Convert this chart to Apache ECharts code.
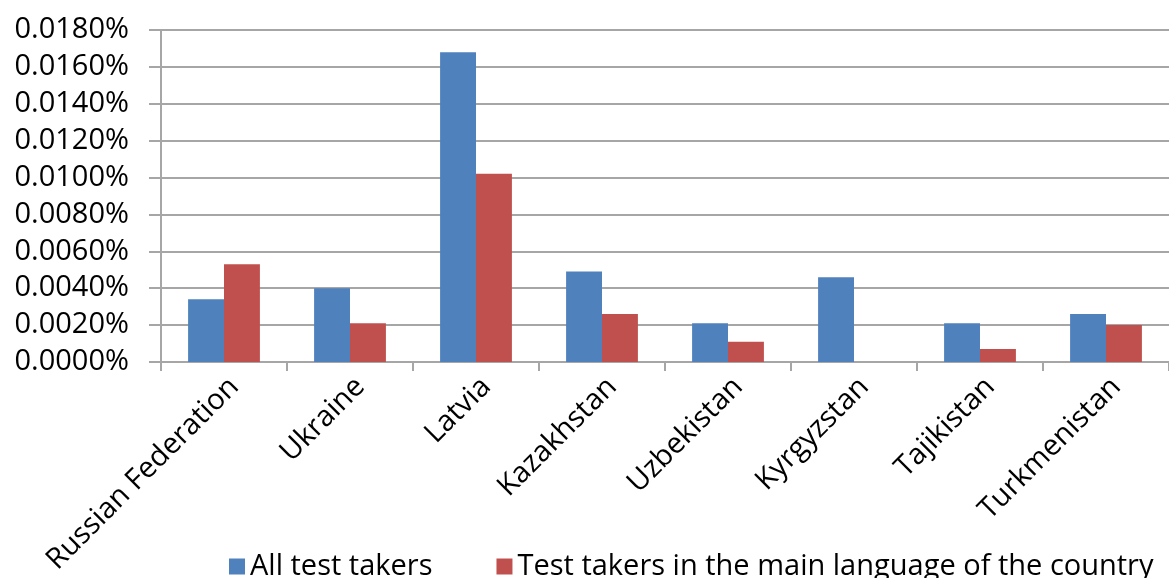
<!DOCTYPE html>
<html>
<head>
<meta charset="utf-8">
<script src="https://cdn.jsdelivr.net/npm/echarts@6/dist/echarts.min.js"></script>
<style>
  html, body { margin: 0; padding: 0; background: #fff; }
  #chart { width: 1169px; height: 578px; }
</style>
</head>
<body>
<div id="chart"></div>
<script>
// values are in percent (0.0034 means 0.0034%)
const countries = ["Russian Federation", "Ukraine", "Latvia", "Kazakhstan", "Uzbekistan", "Kyrgyzstan", "Tajikistan", "Turkmenistan"];
const allTakers = [0.0034, 0.0040, 0.0168, 0.0049, 0.0021, 0.0046, 0.0021, 0.0026];
const mainLanguage = [0.0053, 0.0021, 0.0102, 0.0026, 0.0011, 0, 0.0007, 0.0020];
const seriesNames = ["All test takers", "Test takers in the main language of the country"];

const chart = echarts.init(document.getElementById("chart"));

const font = "'Open Sans', sans-serif";
const gray = "#a6a6a6";

const options = {
  animation: false,
  grid: { left: 161, top: 30, right: -14, bottom: 216 },
  legend: {
    data: seriesNames,
    left: 224,
    top: 547,
    icon: "rect",
    itemWidth: 16,
    itemHeight: 16,
    itemGap: 64,
    textStyle: { fontFamily: font, fontSize: 29, color: "#000" },
  },
  xAxis: {
    type: "category",
    data: countries,
    axisLine: { lineStyle: { color: gray, width: 2 } },
    axisTick: { show: true, length: 9, lineStyle: { color: gray, width: 2 } },
    axisLabel: {
      rotate: 45,
      margin: 10,
      interval: 0,
      verticalAlign: "top",
      fontFamily: font,
      fontSize: 29,
      color: "#000",
    },
  },
  yAxis: {
    type: "value",
    min: 0,
    max: 0.018,
    interval: 0.002,
    axisLine: { show: true, lineStyle: { color: gray, width: 2 } },
    axisTick: { show: true, length: 12, lineStyle: { color: gray, width: 2 } },
    splitLine: { lineStyle: { color: gray, width: 2 } },
    axisLabel: {
      margin: 32,
      fontFamily: font,
      fontSize: 29,
      color: "#000",
      formatter: (v) => v.toFixed(4) + "%",
    },
  },
  series: [
    {
      name: seriesNames[0],
      type: "bar",
      data: allTakers,
      barGap: "0%",
      barCategoryGap: "43%",
      itemStyle: { color: "#4F81BD" },
    },
    {
      name: seriesNames[1],
      type: "bar",
      data: mainLanguage,
      itemStyle: { color: "#C0504D" },
    },
  ],
};

chart.setOption(options);
</script>
</body>
</html>
